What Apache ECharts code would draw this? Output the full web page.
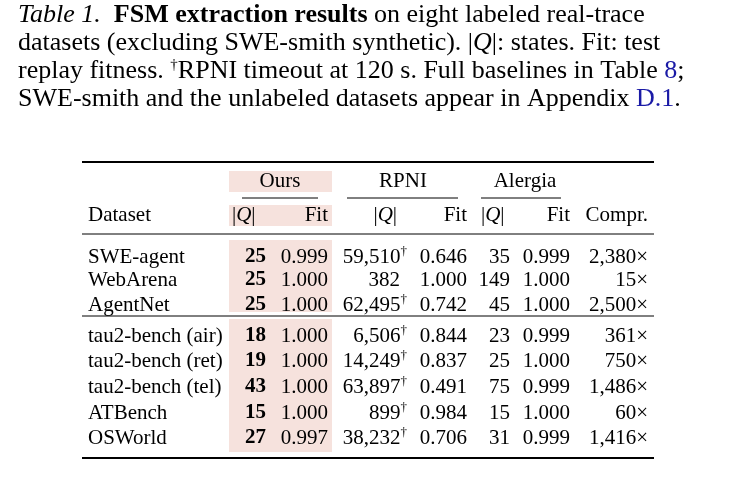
<!DOCTYPE html><html><head><meta charset="utf-8">
<script src="https://cdn.jsdelivr.net/npm/echarts@6/dist/echarts.min.js"></script>
<style>html,body{margin:0;background:#fff}#c{width:737px;height:478px}</style></head><body><div id="c"></div>
<script>
const datasets=["SWE-agent","WebArena","AgentNet","tau2-bench (air)","tau2-bench (ret)","tau2-bench (tel)","ATBench","OSWorld"];
const oursQ=[25,25,25,18,19,43,15,27];
const oursFit=["0.999","1.000","1.000","1.000","1.000","1.000","1.000","0.997"];
const rpniQ=["59,510","382","62,495","6,506","14,249","63,897","899","38,232"];
const rpniTimeout=[true,false,true,true,true,true,true,true];
const rpniFit=["0.646","1.000","0.742","0.844","0.837","0.491","0.984","0.706"];
const alQ=[35,149,45,23,25,75,15,31];
const alFit=["0.999","1.000","1.000","0.999","1.000","0.999","1.000","0.999"];
const compr=["2,380","15","2,500","361","750","1,486","60","1,416"];

const F='"Liberation Serif","DejaVu Serif",serif';
const g=[];
const cs=26;
const rich={b:{fontWeight:'bold',fontFamily:F,fontSize:cs,fill:'#000'},i:{fontStyle:'italic',fontFamily:F,fontSize:cs,fill:'#000'},l:{fill:'#1a1aa6',fontFamily:F,fontSize:cs},s:{fontSize:15,fontFamily:F,verticalAlign:'top',padding:[0,0,12,0]}};
const cap=["{i|Table 1.}  {b|FSM extraction results} on eight labeled real-trace",
"datasets (excluding SWE-smith synthetic). |{i|Q}|: states. Fit: test",
"replay fitness. {s|†}RPNI timeout at 120 s. Full baselines in Table {l|8};",
"SWE-smith and the unlabeled datasets appear in Appendix {l|D.1}."];
cap.forEach((t,k)=>g.push({type:'text',left:18,top:2+k*28,style:{text:t,rich,font:cs+'px '+F,fill:'#000'}}));
const shadeX=229,shadeW=103,sh='#f6e2dd';
[[171,21],[205,21],[240,72],[319,133]].forEach(([y,h])=>g.push({type:'rect',shape:{x:shadeX,y,width:shadeW,height:h},style:{fill:sh}}));
const line=(x1,x2,y,w)=>g.push({type:'line',shape:{x1,y1:y,x2,y2:y},style:{stroke:'#000',lineWidth:w}});
line(82,654,162,2);line(82,654,234,1);line(82,654,316,1);line(82,654,458,2);
line(242,318,198,1);line(347,458,198,1);line(481,561,198,1);
const fs=21;
const T=(x,y,text,align)=>g.push({type:'text',x,y,style:{text,font:fs+'px '+F,fill:'#000',textAlign:align||'left',textVerticalAlign:'middle',rich:{i:{fontStyle:'italic',fontFamily:F,fontSize:fs},s:{fontSize:13,fontFamily:F,padding:[0,0,10,0]},b:{fontWeight:'bold',fontFamily:F,fontSize:fs}}}});
T(280,181,'Ours','center');T(403,181,'RPNI','center');T(525,181,'Alergia','center');
T(88,215,'Dataset');T(232,215,'|{i|Q}|');T(328,215,'Fit','right');
T(397,215,'|{i|Q}|','right');T(467,215,'Fit','right');T(481,215,'|{i|Q}|');T(570,215,'Fit','right');T(648,215,'Compr.','right');
const rowY=[257,280,305,336,361,387,413,438];
datasets.forEach((d,k)=>{const y=rowY[k];
 T(88,y,d);T(266,y,'{b|'+oursQ[k]+'}','right');T(328,y,oursFit[k],'right');
 T(rpniTimeout[k]?407:400,y,rpniQ[k]+(rpniTimeout[k]?'{s|†}':''),'right');T(467,y,rpniFit[k],'right');
 T(510,y,String(alQ[k]),'right');T(570,y,alFit[k],'right');T(648,y,compr[k]+'×','right');});
const ch=echarts.init(document.getElementById('c'));
ch.setOption({animation:false,graphic:g});
</script></body></html>
